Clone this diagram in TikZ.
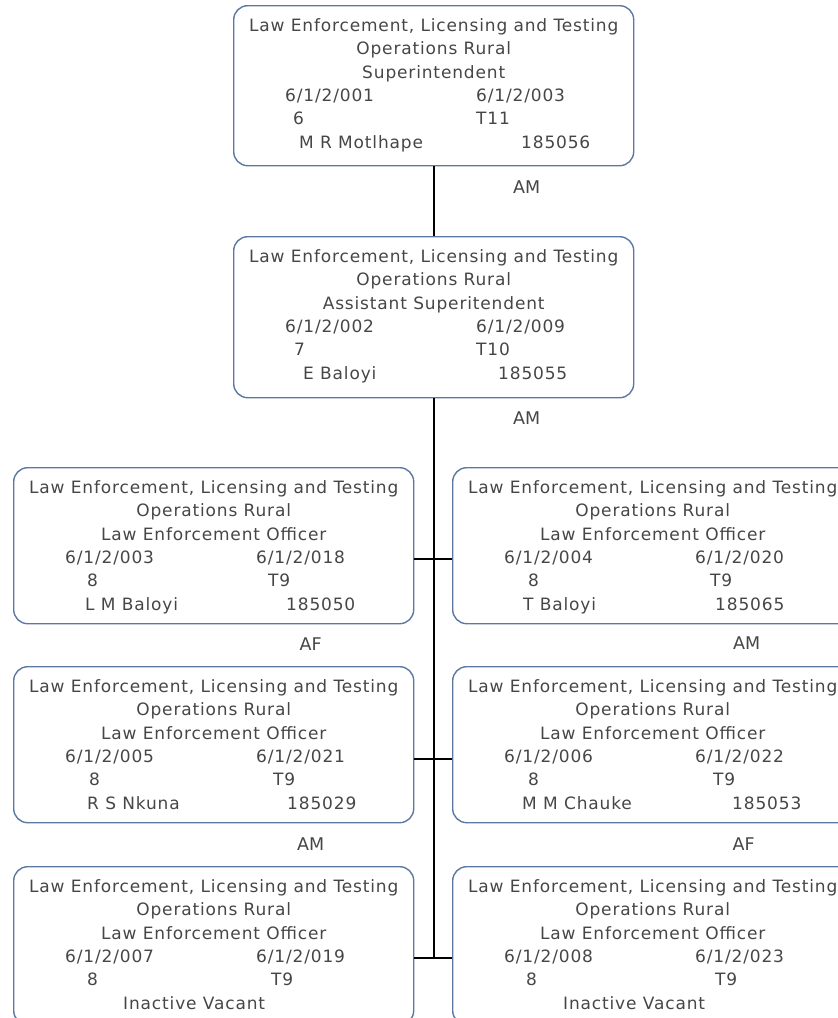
\documentclass[tikz,border=0pt]{standalone}
\usepackage{fontspec}
\setmainfont[LetterSpace=5]{DejaVu Sans}
\newfontfamily\tagfont{DejaVu Sans}
\usetikzlibrary{positioning,calc}
\definecolor{postblue}{RGB}{92,120,162}
\definecolor{posttext}{RGB}{70,70,70}
\tikzset{
  postbox/.style={draw=postblue, line width=1.4pt, rounded corners=14pt, anchor=north west, minimum width=400pt, inner sep=0pt},
  posttitle/.style={align=center, anchor=north, inner sep=0pt, text=posttext, font=\fontsize{17}{23.5}\selectfont},
  postcol/.style={align=left, anchor=north west, inner sep=0pt, text=posttext, font=\fontsize{17}{23.5}\selectfont},
  gendertag/.style={inner sep=0pt, text=posttext, font=\tagfont\fontsize{17.5}{17.5}\selectfont},
  link/.style={line width=1.6pt}
}
\newcommand{\post}[6]{%
  \node[postbox, minimum height=#3] (#1) at (#2) {};
  \node[posttitle] (#1-title) at ([yshift=-13.1pt]#1.north) {Law Enforcement, Licensing and Testing\\Operations Rural\\#4};
  \node[postcol] (#1-left) at ([xshift=52pt,yshift=-83.6pt]#1.north west) {#5};
  \node[postcol] (#1-right) at ([xshift=243pt,yshift=-83.6pt]#1.north west) {#6};
}

\begin{document}
\begin{tikzpicture}[x=1pt, y=-1pt]
    \useasboundingbox (0,0) rectangle (838,1018);
    \clip (0,0) rectangle (838,1018);
    % ---------------------
    \post{super}{233,5}{160pt}{Superintendent}
      {6/1/2/001\\\hspace*{8pt}6\\\hspace*{14pt}M R Motlhape}
      {6/1/2/003\\T11\\\hspace*{45pt}185056}
    \post{asst}{233,236}{161pt}{Assistant Superitendent}
      {6/1/2/002\\\hspace*{9pt}7\\\hspace*{18pt}E Baloyi}
      {6/1/2/009\\T10\\\hspace*{22pt}185055}
    % ---------------------
    \post{leoA}{13,467}{156pt}{Law Enforcement Officer}
      {6/1/2/003\\\hspace*{22pt}8\\\hspace*{20pt}L M Baloyi}
      {6/1/2/018\\\hspace*{12pt}T9\\\hspace*{30pt}185050}
    \post{leoB}{452,467}{156pt}{Law Enforcement Officer}
      {6/1/2/004\\\hspace*{24pt}8\\\hspace*{19pt}T Baloyi}
      {6/1/2/020\\\hspace*{15pt}T9\\\hspace*{20pt}185065}
    \post{leoC}{13,666}{156pt}{Law Enforcement Officer}
      {6/1/2/005\\\hspace*{24pt}8\\\hspace*{22pt}R S Nkuna}
      {6/1/2/021\\\hspace*{17pt}T9\\\hspace*{31pt}185029}
    \post{leoD}{452,666}{156pt}{Law Enforcement Officer}
      {6/1/2/006\\\hspace*{24pt}8\\\hspace*{18pt}M M Chauke}
      {6/1/2/022\\\hspace*{18pt}T9\\\hspace*{37pt}185053}
    \post{leoE}{13,866}{158pt}{Law Enforcement Officer}
      {6/1/2/007\\\hspace*{22pt}8\\\hspace*{58pt}Inactive Vacant}
      {6/1/2/019\\\hspace*{15pt}T9}
    \post{leoF}{452,866}{158pt}{Law Enforcement Officer}
      {6/1/2/008\\\hspace*{22pt}8\\\hspace*{59pt}Inactive Vacant}
      {6/1/2/023\\\hspace*{20pt}T9}
    % ---------------------
    \node[gendertag] (super-tag) at ([xshift=93pt,yshift=-21pt]super.south) {AM};
    \node[gendertag] (asst-tag) at ([xshift=93pt,yshift=-20pt]asst.south) {AM};
    \node[gendertag] (leoA-tag) at ([xshift=97pt,yshift=-20pt]leoA.south) {AF};
    \node[gendertag] (leoB-tag) at ([xshift=94pt,yshift=-19pt]leoB.south) {AM};
    \node[gendertag] (leoC-tag) at ([xshift=97pt,yshift=-21pt]leoC.south) {AM};
    \node[gendertag] (leoD-tag) at ([xshift=91pt,yshift=-21pt]leoD.south) {AF};
    % ---------------------
    \coordinate (hookA) at ([yshift=-92pt]leoA.north east);
    \coordinate (hookC) at ([yshift=-93pt]leoC.north east);
    \coordinate (hookE) at ([yshift=-92pt]leoE.north east);
    \draw[link]
    (super.south) -- (asst.north)
    (asst.south) -- (asst.south |- hookE)
    (hookA) -- (hookA -| leoB.west)
    (hookC) -- (hookC -| leoD.west)
    (hookE) -- (hookE -| leoF.west);
\end{tikzpicture}
\end{document}
